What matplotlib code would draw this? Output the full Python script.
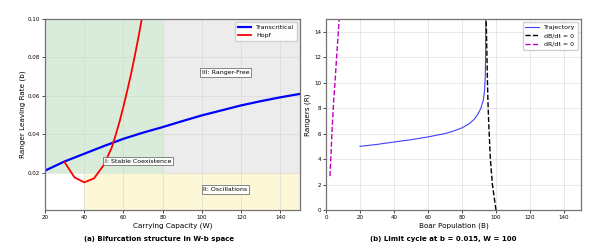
import matplotlib.pyplot as plt
import numpy as np

# panel (a): bifurcation curves in W-b space
W_tc = [20, 30, 40, 50, 60, 70, 80, 90, 100, 110, 120, 130, 140, 150]
b_tc = [0.021, 0.0258, 0.0298, 0.0338, 0.0376, 0.0408, 0.0437, 0.0468, 0.0498, 0.0524, 0.0550, 0.0572, 0.0592, 0.0610]

W_hopf = [30, 35, 40, 45, 50, 52, 54, 56, 58, 60, 62, 64, 66, 68, 70]
b_hopf = [0.0254, 0.0175, 0.0149, 0.0170, 0.0240, 0.0285, 0.0330, 0.0395, 0.0465, 0.0545, 0.0630, 0.0720, 0.0820, 0.0925, 0.1040]

# panel (b): trajectory and nullclines
B_traj = [20, 30, 40, 50, 60, 70, 75, 80, 84, 87, 89, 91, 92.5, 93.3, 93.7, 93.9, 94.0]
R_traj = [5.0, 5.15, 5.34, 5.52, 5.74, 6.0, 6.2, 6.45, 6.75, 7.1, 7.45, 7.95, 8.6, 9.4, 10.5, 12.0, 15.0]

R_bnull = [0, 2, 4, 6.6, 8, 10, 12, 14, 15]
B_bnull = [100, 97.9, 96.7, 95.8, 95.4, 95.0, 94.7, 94.4, 94.2]

R_rnull = [2.66, 4.5, 6.6, 8.5, 10, 12.5, 15]
B_rnull = [2.35, 3.0, 3.7, 4.5, 5.3, 6.5, 7.8]

fig = plt.figure(figsize=(6.05, 2.5), dpi=100)
ax1 = fig.add_axes([0.0744, 0.16, 0.4215, 0.764])
ax2 = fig.add_axes([0.5388, 0.16, 0.4215, 0.764])

# regions
ax1.fill_between([20, 80], 0.02, 0.1, color='green', alpha=0.15, lw=0)
ax1.fill_between([80, 150], 0.02, 0.1, color='gray', alpha=0.15, lw=0)
ax1.fill_between([40, 150], 0, 0.02, color='#f5e663', alpha=0.25, lw=0)

ax1.plot(W_tc, b_tc, color='blue', lw=1.6, label='Transcritical')
ax1.plot(W_hopf, b_hopf, color='red', lw=1.3, label='Hopf')

box = dict(boxstyle='square,pad=0.3', fc='white', ec='0.4', lw=0.6, alpha=0.9)
ax1.text(112, 0.072, 'III: Ranger-Free', fontsize=4.5, ha='center', va='center', bbox=box)
ax1.text(67.5, 0.026, 'I: Stable Coexistence', fontsize=4.5, ha='center', va='center', bbox=box)
ax1.text(112, 0.011, 'II: Oscillations', fontsize=4.5, ha='center', va='center', bbox=box)

ax1.set_xlim(20, 150)
ax1.set_ylim(0.0005, 0.1)
ax1.set_yticks([0.02, 0.04, 0.06, 0.08, 0.10])
ax1.set_xlabel('Carrying Capacity (W)', fontsize=5.2, labelpad=2)
ax1.set_ylabel('Ranger Leaving Rate (b)', fontsize=5.2, labelpad=1.5)
ax1.legend(loc='upper right', fontsize=4.5, framealpha=0.9, handlelength=2.2)

ax2.plot(B_traj, R_traj, color='blue', lw=0.8, alpha=0.75, label='Trajectory')
ax2.plot(B_bnull, R_bnull, 'k--', lw=1.0, label='dB/dt = 0')
ax2.plot(B_rnull, R_rnull, '--', color='m', lw=1.0, label='dR/dt = 0')
ax2.set_xlim(0, 150)
ax2.set_ylim(0, 15)
ax2.set_xlabel('Boar Population (B)', fontsize=5.2, labelpad=2)
ax2.set_ylabel('Rangers (R)', fontsize=5.2, labelpad=2)
ax2.legend(loc='upper right', fontsize=4.5, framealpha=0.9, handlelength=2.2)

for ax in (ax1, ax2):
    ax.grid(True, color='0.82', lw=0.5, alpha=0.7)
    ax.tick_params(labelsize=4, length=2, width=0.5, pad=1.5)
    for s in ax.spines.values():
        s.set_color('0.45')
        s.set_linewidth(0.9)

fig.text(0.263, 0.044, '(a) Bifurcation structure in W-b space', fontsize=5.0, fontweight='bold', ha='center', va='center')
fig.text(0.732, 0.044, '(b) Limit cycle at b = 0.015, W = 100', fontsize=5.0, fontweight='bold', ha='center', va='center')

fig.savefig('out.png', dpi=100)
